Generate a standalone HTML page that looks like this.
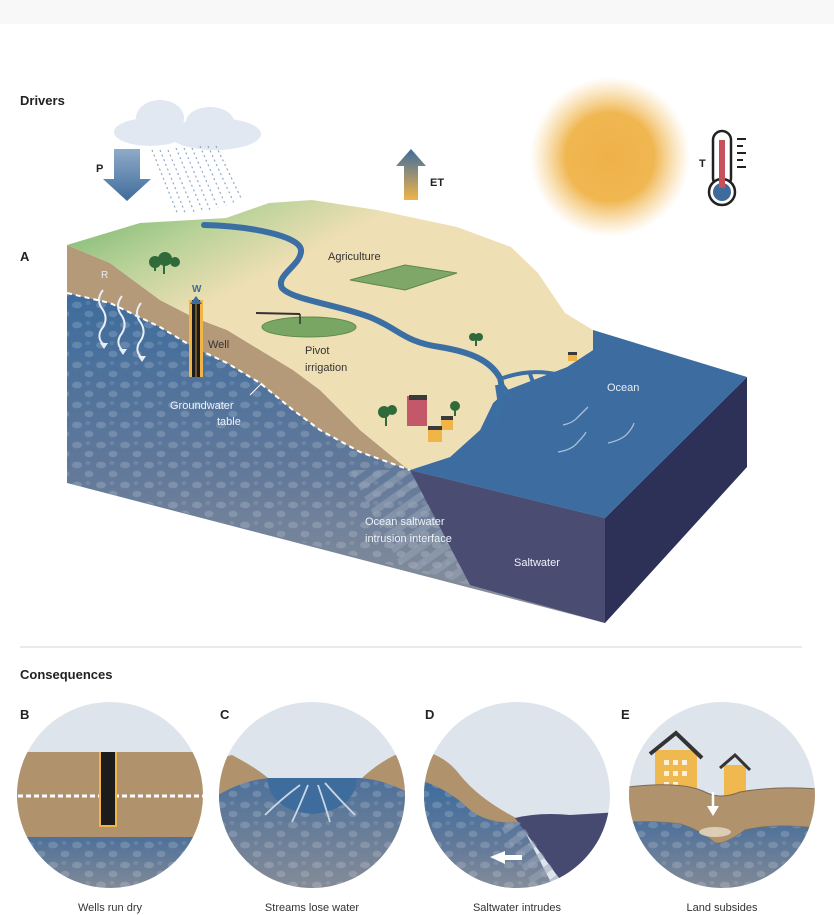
<!DOCTYPE html>
<html><head><meta charset="utf-8"><style>
html,body{margin:0;padding:0;background:#fff;}
svg{display:block;font-family:"Liberation Sans",sans-serif;}
</style></head><body>
<svg width="834" height="915" viewBox="0 0 834 915" xmlns="http://www.w3.org/2000/svg">
<defs>
<pattern id="dots" width="24" height="20" patternUnits="userSpaceOnUse">
<ellipse cx="5" cy="5" rx="5" ry="3.4" fill="#fff" opacity="0.16"/>
<ellipse cx="17" cy="14" rx="4.5" ry="3.2" fill="#fff" opacity="0.16"/>
<ellipse cx="16" cy="3" rx="2.5" ry="2" fill="#fff" opacity="0.1"/>
</pattern>
<linearGradient id="gw" x1="0" y1="0" x2="0" y2="1">
<stop offset="0" stop-color="#3d6c9d"/><stop offset="0.55" stop-color="#62799a"/><stop offset="1" stop-color="#8e929b"/>
</linearGradient>
<linearGradient id="gwc" x1="0" y1="0" x2="0" y2="1">
<stop offset="0" stop-color="#4d709a"/><stop offset="1" stop-color="#8a8e97"/>
</linearGradient>
<linearGradient id="land" x1="0" y1="0" x2="0.6" y2="0.6">
<stop offset="0" stop-color="#6fb36a"/><stop offset="0.3" stop-color="#b8d298"/><stop offset="0.55" stop-color="#efdfb4"/><stop offset="1" stop-color="#efdfb4"/>
</linearGradient>
<linearGradient id="pa" x1="0" y1="0" x2="0" y2="1"><stop offset="0" stop-color="#8fabc9"/><stop offset="1" stop-color="#3f6c9b"/></linearGradient>
<linearGradient id="et" x1="0" y1="0" x2="0" y2="1"><stop offset="0" stop-color="#3d6c9d"/><stop offset="1" stop-color="#f0b44a"/></linearGradient>
<radialGradient id="sun"><stop offset="0" stop-color="#efb24a"/><stop offset="0.55" stop-color="#f0b650"/><stop offset="1" stop-color="#f5c878" stop-opacity="0"/></radialGradient>
<pattern id="stripes" width="14" height="14" patternUnits="userSpaceOnUse" patternTransform="rotate(-35)">
<rect width="14" height="7" fill="#9aa6b8" opacity="0.5"/>
</pattern>
<clipPath id="cB"><circle cx="110" cy="795" r="93"/></clipPath>
<clipPath id="cC"><circle cx="312" cy="795" r="93"/></clipPath>
<clipPath id="cD"><circle cx="517" cy="795" r="93"/></clipPath>
<clipPath id="cE"><circle cx="722" cy="795" r="93"/></clipPath>
</defs>
<rect x="0" y="0" width="834" height="24" fill="#f8f8f8"/>
<text x="20" y="105" font-size="13" font-weight="bold" fill="#222">Drivers</text>
<g fill="#e1e8f1">
<ellipse cx="150" cy="132" rx="36" ry="14"/><ellipse cx="160" cy="118" rx="24" ry="18"/>
<ellipse cx="215" cy="134" rx="46" ry="16"/><ellipse cx="210" cy="122" rx="24" ry="15"/>
</g>
<g stroke="#8fa9c6" stroke-width="1.2" stroke-dasharray="2 3">
<line x1="152" y1="150" x2="178" y2="215"/><line x1="160" y1="150" x2="186" y2="215"/><line x1="168" y1="150" x2="195" y2="214"/>
<line x1="176" y1="148" x2="203" y2="212"/><line x1="184" y1="148" x2="210" y2="210"/><line x1="192" y1="148" x2="218" y2="208"/>
<line x1="200" y1="146" x2="226" y2="206"/><line x1="208" y1="146" x2="234" y2="203"/><line x1="216" y1="146" x2="242" y2="200"/>
</g>
<polygon points="114,149 140,149 140,179 151,179 127,201 103,179 114,179" fill="url(#pa)"/>
<text x="96" y="172" font-size="11" font-weight="bold" fill="#222">P</text>
<polygon points="404,200 418,200 418,166 426,166 411,149 396,166 404,166" fill="url(#et)"/>
<text x="430" y="186" font-size="11" font-weight="bold" fill="#222">ET</text>
<circle cx="610" cy="157" r="80" fill="url(#sun)"/>
<g>
<rect x="713" y="131" width="18" height="56" rx="9" fill="#fff" stroke="#222" stroke-width="2.5"/>
<circle cx="722" cy="192" r="13" fill="#fff" stroke="#222" stroke-width="2.5"/>
<circle cx="722" cy="192" r="9" fill="#3e6b9c"/>
<rect x="719" y="140" width="6" height="48" fill="#c7505a"/>
<g stroke="#222" stroke-width="2"><line x1="737" y1="139" x2="746" y2="139"/><line x1="737" y1="146" x2="743" y2="146"/><line x1="737" y1="153" x2="746" y2="153"/><line x1="737" y1="160" x2="743" y2="160"/><line x1="737" y1="167" x2="746" y2="167"/></g>
<text x="699" y="167" font-size="11" font-weight="bold" fill="#222">T</text>
</g>
<text x="20" y="261" font-size="13" font-weight="bold" fill="#222">A</text>

<polygon points="605,518 747,377 747,467 605,623" fill="#2d3157"/>
<polygon points="67,293 110,303 160,327 193,347 227,363 260,383 293,410 320,430 360,452 410,470 605,518 605,623 67,483" fill="url(#gw)"/>
<polygon points="67,293 110,303 160,327 193,347 227,363 260,383 293,410 320,430 360,452 410,470 470,585 67,483" fill="url(#dots)"/>
<polygon points="410,470 605,518 605,623 470,585" fill="#4a4c72"/>
<polygon points="350,470 410,470 470,585 400,565" fill="url(#stripes)"/>
<polygon points="67,245 110,263 160,300 193,317 227,330 260,350 293,370 320,390 360,430 405,467 410,470 360,452 320,430 293,410 260,383 227,363 193,347 160,327 110,303 67,293" fill="#b49a78"/>
<path d="M67,293 L110,303 L160,327 L193,347 L227,363 L260,383 L293,410 L320,430 L360,452 L410,470" fill="none" stroke="#fff" stroke-width="2" stroke-dasharray="5 4"/>
<line x1="250" y1="395" x2="262" y2="383" stroke="#fff" stroke-width="1"/>
<polygon points="593,330 747,377 605,518 410,470 450,457 480,430 493,403 507,390 567,367 593,350" fill="#3d6da0"/>
<g stroke="#a9c0da" stroke-width="1.3" fill="none">
<path d="M563,425 q10,-2 15,-8 q6,-6 10,-10"/><path d="M558,452 q14,-2 20,-10 q6,-6 8,-10"/><path d="M608,443 q14,-3 20,-10 q5,-6 6,-10"/>
</g>
<text x="607" y="391" font-size="11" fill="#e3ecf5">Ocean</text>
<polygon points="67,245 110,263 160,300 193,317 227,330 260,350 293,370 320,390 360,430 405,467 410,470 450,457 480,430 493,403 507,390 567,367 593,350 593,330 565,313 538,273 511,247 457,227 377,210 312,200 269,203 226,218 140,223" fill="url(#land)"/>
<path d="M204,225 C250,226 300,236 301,250 C302,265 275,275 282,288 C292,300 340,305 372,318 C400,330 405,342 440,347 C470,352 490,360 500,378 C505,395 497,410 496,420" fill="none" stroke="#3b6ea3" stroke-width="6" stroke-linecap="round"/>
<g stroke="#3b6ea3" stroke-width="4" fill="none">
<path d="M497,385 L500,405"/><path d="M500,382 L512,398"/><path d="M503,378 C520,372 540,370 560,375"/><path d="M530,374 L534,385"/><path d="M548,373 L552,382"/>
</g>
<polygon points="350,280 405,265 457,273 405,290" fill="#7fa767" stroke="#5d8a4c" stroke-width="1"/>
<text x="328" y="260" font-size="11" fill="#333">Agriculture</text>
<ellipse cx="309" cy="327" rx="47" ry="10" fill="#79a763" stroke="#5d8a4c" stroke-width="1"/>
<line x1="256" y1="313" x2="300" y2="314" stroke="#333" stroke-width="2"/>
<line x1="300" y1="314" x2="300" y2="324" stroke="#333" stroke-width="1.5"/>
<text x="305" y="354" font-size="11" fill="#333">Pivot</text>
<text x="305" y="371" font-size="11" fill="#333">irrigation</text>
<g fill="#2f6a3a">
<circle cx="155" cy="262" r="6"/><circle cx="165" cy="259" r="7"/><circle cx="175" cy="262" r="5"/>
<rect x="163" y="262" width="2" height="12"/><rect x="154" y="263" width="2" height="8"/>
<circle cx="384" cy="412" r="6"/><circle cx="392" cy="410" r="5"/><rect x="385" y="414" width="2" height="12"/>
<circle cx="455" cy="406" r="5"/><rect x="454" y="408" width="2" height="8"/>
<circle cx="473" cy="337" r="4"/><circle cx="479" cy="337" r="4"/><rect x="475" y="339" width="2" height="7"/>
</g>
<rect x="407" y="396" width="20" height="30" fill="#c35869"/><rect x="409" y="395" width="18" height="5" fill="#3a3a3a"/>
<rect x="441" y="418" width="12" height="12" fill="#f0b447"/><rect x="441" y="416" width="12" height="4" fill="#3a3a3a"/>
<rect x="428" y="428" width="14" height="14" fill="#f0b447"/><rect x="428" y="426" width="14" height="4" fill="#3a3a3a"/>
<rect x="568" y="354" width="9" height="7" fill="#f0b447"/><rect x="568" y="352" width="9" height="3" fill="#3a3a3a"/>
<rect x="189" y="300" width="14" height="77" fill="#f0b447"/>
<rect x="192" y="300" width="8" height="77" fill="#1c1c1c"/>
<line x1="196" y1="300" x2="196" y2="377" stroke="#f0b447" stroke-width="0.8"/>
<polygon points="190,304 196,296 202,304" fill="#3d6c9d"/>
<text x="192" y="292" font-size="10" font-weight="bold" fill="#3d6c9d">W</text>
<text x="208" y="348" font-size="11" fill="#333">Well</text>
<g stroke="#e8eef5" stroke-width="2" fill="none">
<path d="M103,290 q-8,10 0,20 q6,10 -2,20 q-4,8 2,14"/><path d="M122,296 q-8,10 0,20 q6,10 -2,20 q-4,8 2,14"/><path d="M141,303 q-8,10 0,20 q6,10 -2,20 q-4,8 2,14"/>
</g>
<g fill="#e8eef5"><polygon points="100,343 108,343 104,349"/><polygon points="119,349 127,349 123,355"/><polygon points="138,356 146,356 142,362"/></g>
<text x="101" y="278" font-size="10" fill="#e8eef5">R</text>
<text x="170" y="409" font-size="11" fill="#eef3f8">Groundwater</text>
<text x="217" y="425" font-size="11" fill="#eef3f8">table</text>
<text x="365" y="525" font-size="11" fill="#eef3f8">Ocean saltwater</text>
<text x="365" y="542" font-size="11" fill="#eef3f8">intrusion interface</text>
<text x="514" y="566" font-size="11" fill="#eef3f8">Saltwater</text>

<line x1="20" y1="647" x2="802" y2="647" stroke="#d5d5d5" stroke-width="1"/>
<text x="20" y="679" font-size="13" font-weight="bold" fill="#222">Consequences</text>
<g font-size="13" font-weight="bold" fill="#222"><text x="20" y="719">B</text><text x="220" y="719">C</text><text x="425" y="719">D</text><text x="621" y="719">E</text></g>

<g clip-path="url(#cB)">
<rect x="10" y="700" width="200" height="200" fill="#dde4ec"/>
<rect x="10" y="752" width="200" height="86" fill="#b0926d"/>
<rect x="10" y="837" width="200" height="60" fill="url(#gwc)"/>
<rect x="10" y="837" width="200" height="60" fill="url(#dots)"/>
<line x1="10" y1="796" x2="210" y2="796" stroke="#fff" stroke-width="3" stroke-dasharray="5 3"/>
<rect x="99" y="752" width="18" height="75" fill="#f0b447"/>
<rect x="101" y="752" width="14" height="73" fill="#1c1c1c"/>
</g>
<g clip-path="url(#cC)">
<rect x="210" y="700" width="210" height="200" fill="#dde4ec"/>
<path d="M210,760 L232,755 Q260,770 270,780 L360,780 Q375,765 395,755 L420,760 L420,900 L210,900 Z" fill="#b0926d"/>
<path d="M210,800 Q240,780 270,778 L360,778 Q390,780 420,800 L420,900 L210,900 Z" fill="url(#gwc)"/>
<path d="M210,800 Q240,780 270,778 L360,778 Q390,780 420,800 L420,900 L210,900 Z" fill="url(#dots)"/>
<path d="M267,778 Q312,778 357,778 Q355,810 312,814 Q270,810 267,778 Z" fill="#3d6c9d"/>
<g stroke="#c9d6e4" stroke-width="1.8" fill="none"><path d="M300,785 Q280,800 265,815"/><path d="M308,785 Q300,805 292,822"/><path d="M318,785 Q325,805 330,822"/><path d="M325,783 Q340,800 355,815"/></g>
</g>
<g clip-path="url(#cD)">
<rect x="420" y="700" width="200" height="200" fill="#dde4ec"/>
<path d="M420,750 Q445,755 460,775 Q480,800 520,820 L420,900 Z" fill="#b0926d"/>
<path d="M420,780 Q450,790 470,810 Q490,825 520,822 L560,900 L420,900 Z" fill="url(#gw)"/>
<path d="M420,780 Q450,790 470,810 Q490,825 520,822 L560,900 L420,900 Z" fill="url(#dots)"/>
<path d="M515,818 Q540,812 570,815 L620,812 L620,900 L575,900 Z" fill="#474a70"/>
<polygon points="500,825 520,822 575,900 540,900" fill="url(#stripes)"/>
<polygon points="490,857 505,851 505,855 522,855 522,860 505,860 505,864" fill="#fff"/>
</g>
<g clip-path="url(#cE)">
<rect x="625" y="700" width="200" height="200" fill="#dde4ec"/>
<rect x="655" y="750" width="42" height="55" fill="#f0b94f"/>
<polyline points="650,754 676,733 702,758" fill="none" stroke="#333" stroke-width="4"/>
<g fill="#fff" opacity="0.8"><rect x="664" y="760" width="5" height="5"/><rect x="673" y="760" width="5" height="5"/><rect x="682" y="760" width="5" height="5"/><rect x="664" y="771" width="5" height="5"/><rect x="673" y="771" width="5" height="5"/><rect x="682" y="771" width="5" height="5"/><rect x="664" y="782" width="5" height="5"/><rect x="673" y="782" width="5" height="5"/></g>
<rect x="724" y="765" width="22" height="35" fill="#f0b94f"/>
<polyline points="720,768 735,755 750,770" fill="none" stroke="#333" stroke-width="3"/>
<path d="M620,788 Q680,780 705,792 Q720,800 740,792 Q780,785 830,790 L830,830 Q780,822 745,830 Q725,845 715,843 Q700,830 680,824 Q650,820 620,823 Z" fill="#b0926d" stroke="#7d6a55" stroke-width="1"/>
<path d="M620,823 Q650,820 680,824 Q700,830 715,843 Q725,845 745,830 Q780,822 830,830 L830,900 L620,900 Z" fill="url(#gwc)"/>
<path d="M620,823 Q650,820 680,824 Q700,830 715,843 Q725,845 745,830 Q780,822 830,830 L830,900 L620,900 Z" fill="url(#dots)"/>
<ellipse cx="715" cy="832" rx="16" ry="5" fill="#e8dcc8" opacity="0.8"/>
<line x1="713" y1="792" x2="713" y2="808" stroke="#fff" stroke-width="2.5"/>
<polygon points="707,806 719,806 713,816" fill="#fff"/>
</g>
<g font-size="11" fill="#333" text-anchor="middle">
<text x="110" y="911">Wells run dry</text><text x="312" y="911">Streams lose water</text><text x="517" y="911">Saltwater intrudes</text><text x="722" y="911">Land subsides</text>
</g>
</svg>
</body></html>
